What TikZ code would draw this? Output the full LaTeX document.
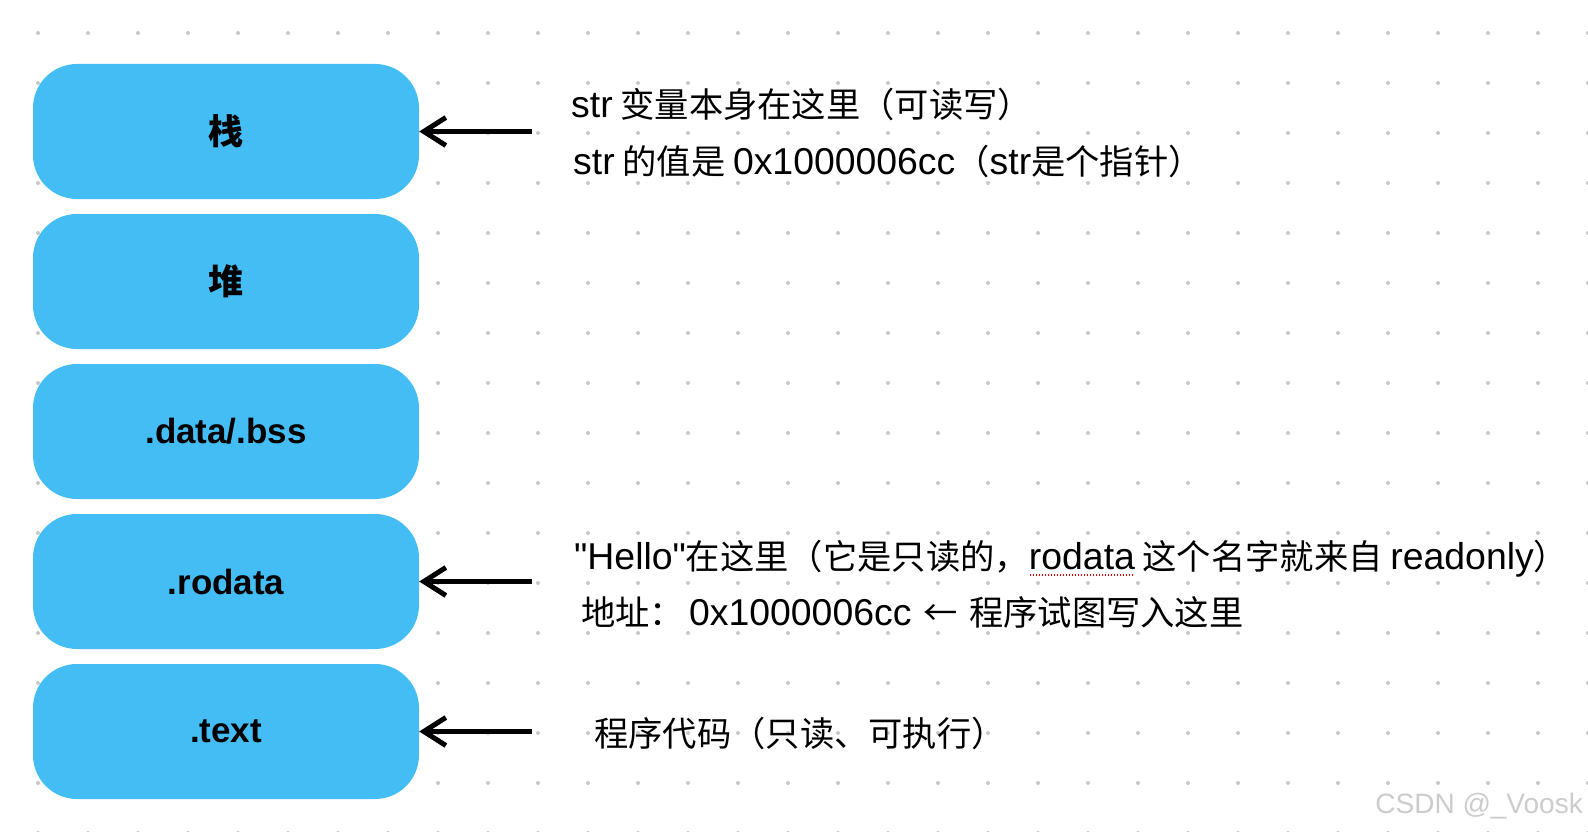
\documentclass[tikz,border=0pt]{standalone}
\usepackage{fontspec}
\setmainfont{Noto Sans CJK SC}
\newfontfamily\latfont[Scale=1.09]{Liberation Sans}
\newfontfamily\labfont{Liberation Sans}
\newfontfamily\wmfont{Liberation Sans}
\usetikzlibrary{arrows.meta}
\definecolor{boxblue}{HTML}{43BDF4}
\definecolor{dotgray}{HTML}{C8C8C8}
\newcommand\lat[1]{{\latfont #1}}
\newcommand\spellul[1]{\setbox0\hbox{#1}\rlap{\color{red!85!black}\raisebox{-7pt}{\leaders\hbox to 3pt{\hss\rule{1.6pt}{1.6pt}\hss}\hskip\wd0}}\box0\relax}
\tikzset{
  segbox/.style={fill=boxblue, rounded corners=44pt, minimum width=386pt, minimum height=135pt, inner sep=0pt, font=\fontsize{35}{40}\selectfont\bfseries},
  latlabel/.style={font=\labfont\fontsize{35}{40}\selectfont\bfseries},
  note/.style={anchor=base west, inner sep=0pt, font=\fontsize{34.3}{38}\selectfont},
  ptr/.style={line width=5pt, -{Straight Barb[length=22pt, width=28pt, line width=5pt]}},
}
\begin{document}
\begin{tikzpicture}[x=1pt,y=-1pt]
\useasboundingbox (0,0) rectangle (1588,832);
\fill[white] (0,0) rectangle (1588,832);
\foreach \i in {0,...,31}{\foreach \j in {0,...,16}{\fill[dotgray] (38+50*\i, 33+50*\j) circle (2);}}
\node[segbox] (s1) at (226,131.5) {栈};
\node[segbox] (s2) at (226,281.5) {堆};
\node[segbox, latlabel] (s3) at (226,431.5) {.data/.bss};
\node[segbox, latlabel] (s4) at (226,581.5) {.rodata};
\node[segbox, latlabel] (s5) at (226,731.5) {.text};
\coordinate (a1) at (532,131.5);
\coordinate (a4) at (532,581.5);
\coordinate (a5) at (532,731.5);
\draw[ptr] (a1) -- (s1.east);
\draw[ptr] (a4) -- (s4.east);
\draw[ptr] (a5) -- (s5.east);
\node[note] (t1a) at (571,117.5) {\lat{str} 变量本身在这里（可读写）};
\node[note] (t1b) at (573,175) {\lat{str} 的值是 \lat{0x1000006cc}（\lat{str}是个指针）};
\node[note] (t4a) at (574,569) {\lat{\char34Hello\char34}在这里（它是只读的，\spellul{\lat{rodata}} 这个名字就来自 \lat{readonly}）};
\node[note] (t4b) at (581,625) {地址：\hspace{5pt}\lat{0x1000006cc}\hspace{4pt} ←\hspace{4pt} 程序试图写入这里};
\node[note] (t5) at (594,746) {程序代码（只读、可执行）};
\node[anchor=east, inner sep=0pt, text=gray!40, font=\wmfont\fontsize{28}{32}\selectfont] (wm) at (1583,806) {CSDN @\_Voosk};
\end{tikzpicture}
\end{document}
